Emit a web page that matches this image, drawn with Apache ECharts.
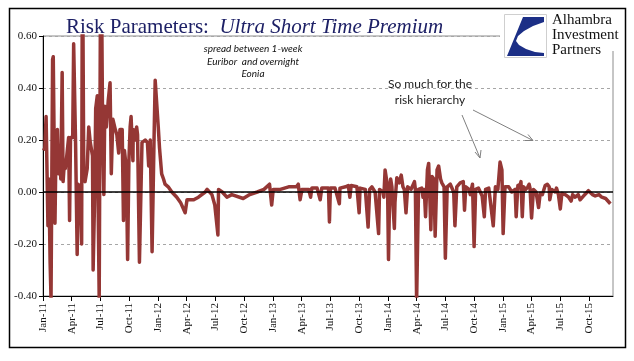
<!DOCTYPE html>
<html><head><meta charset="utf-8">
<script src="https://cdn.jsdelivr.net/npm/echarts@6/dist/echarts.min.js"></script>
<style>html,body{margin:0;padding:0;background:#fff}#c{width:634px;height:361px}</style>
</head><body><div id="c"></div>
<script>
const quarterLabels = ['Jan-11','Apr-11','Jul-11','Oct-11','Jan-12','Apr-12','Jul-12','Oct-12','Jan-13','Apr-13','Jul-13','Oct-13','Jan-14','Apr-14','Jul-14','Oct-14','Jan-15','Apr-15','Jul-15','Oct-15'];
const dates = [
'2011-01-03','2011-01-07','2011-01-11','2011-01-14','2011-01-17','2011-01-20','2011-01-24','2011-01-27','2011-02-01','2011-02-03',
'2011-02-08','2011-02-11','2011-02-15','2011-02-18','2011-02-22','2011-02-25','2011-03-01','2011-03-04','2011-03-08','2011-03-11',
'2011-03-16','2011-03-22','2011-03-25','2011-03-28','2011-04-04','2011-04-07','2011-04-13','2011-04-18','2011-04-21','2011-04-27',
'2011-05-02','2011-05-04','2011-05-06','2011-05-09','2011-05-13','2011-05-20','2011-05-25','2011-05-30','2011-06-06','2011-06-08',
'2011-06-13','2011-06-16','2011-06-21','2011-06-24','2011-06-27','2011-07-01','2011-07-05','2011-07-08','2011-07-12','2011-07-15',
'2011-07-20','2011-07-26','2011-08-01','2011-08-04','2011-08-05','2011-08-10','2011-08-18','2011-08-23','2011-08-29','2011-09-02',
'2011-09-09','2011-09-13','2011-09-16','2011-09-22','2011-09-26','2011-09-30','2011-10-04','2011-10-07','2011-10-13','2011-10-14',
'2011-10-21','2011-10-25','2011-10-28','2011-11-03','2011-11-11','2011-11-21','2011-11-28','2011-12-02','2011-12-07','2011-12-13',
'2011-12-19','2011-12-23','2011-12-29','2012-01-02','2012-01-06','2012-01-13','2012-01-19','2012-01-24','2012-02-03','2012-02-14',
'2012-02-29','2012-03-12','2012-03-27','2012-04-02','2012-04-23','2012-05-08','2012-05-30','2012-06-05','2012-06-20','2012-06-29',
'2012-07-09','2012-07-11','2012-07-23','2012-08-07','2012-08-23','2012-09-28','2012-10-19','2012-11-12','2012-12-03','2012-12-21',
'2012-12-28','2013-01-02','2013-01-25','2013-02-19','2013-03-15','2013-03-21','2013-03-27','2013-04-02','2013-04-23','2013-04-29',
'2013-05-03','2013-05-20','2013-05-30','2013-06-04','2013-06-25','2013-06-28','2013-07-01','2013-07-16','2013-07-30','2013-08-01',
'2013-08-19','2013-08-28','2013-09-02','2013-09-06','2013-09-24','2013-10-01','2013-10-04','2013-10-21','2013-10-30','2013-11-04',
'2013-11-11','2013-11-21','2013-12-02','2013-12-05','2013-12-16','2013-12-19','2013-12-23','2013-12-27','2013-12-31','2014-01-03',
'2014-01-07','2014-01-10','2014-01-14','2014-01-22','2014-01-24','2014-01-30','2014-02-06','2014-02-12','2014-02-17','2014-02-21',
'2014-02-26','2014-03-03','2014-03-14','2014-03-25','2014-03-28','2014-04-01','2014-04-07','2014-04-17','2014-04-21','2014-04-25',
'2014-04-29','2014-05-05','2014-05-09','2014-05-12','2014-05-16','2014-05-20','2014-05-26','2014-05-30','2014-06-05','2014-06-10',
'2014-06-16','2014-06-20','2014-06-27','2014-07-01','2014-07-07','2014-07-17','2014-07-28','2014-08-01','2014-08-07','2014-08-18',
'2014-08-28','2014-09-01','2014-09-05','2014-09-15','2014-09-19','2014-09-26','2014-10-01','2014-10-06','2014-10-15','2014-10-27',
'2014-11-03','2014-11-07','2014-11-17','2014-11-21','2014-12-01','2014-12-08','2014-12-16','2014-12-23','2014-12-29','2015-01-02',
'2015-01-08','2015-01-20','2015-01-30','2015-02-09','2015-02-12','2015-02-17','2015-02-24','2015-02-26','2015-03-02','2015-03-06',
'2015-03-13','2015-03-20','2015-03-24','2015-03-27','2015-04-01','2015-04-07','2015-04-15','2015-04-23','2015-04-28','2015-05-05',
'2015-05-14','2015-05-21','2015-05-27','2015-05-29','2015-06-04','2015-06-15','2015-06-19','2015-06-25','2015-07-01','2015-07-06',
'2015-07-17','2015-07-28','2015-08-05','2015-08-10','2015-08-18','2015-08-28','2015-09-03','2015-09-14','2015-09-29','2015-10-12',
'2015-10-21','2015-11-02','2015-11-11','2015-11-23','2015-12-08'
];
const values = [
0.16,0.17,0.29,0.29,-0.13,0.05,-0.27,-0.41,0.51,0.52,
-0.12,0.17,0.24,0.07,0.16,0.05,0.46,0.04,0.11,0.09,
0.14,0.21,-0.11,0.21,0.21,0.57,0.19,-0.24,0.03,0.02,
-0.20,0.72,0.70,0.06,0.04,0.09,0.25,0.19,0.14,-0.30,
0.00,0.32,0.37,-0.08,-0.41,0.75,0.70,0.23,-0.01,0.33,
0.25,0.35,0.42,0.42,0.07,0.28,0.24,0.22,0.15,0.24,
0.24,-0.11,0.16,0.09,-0.26,0.12,0.25,0.29,0.12,0.24,
0.20,0.25,0.22,-0.27,0.19,0.20,0.19,0.10,0.20,-0.23,
0.18,0.43,0.43,0.25,0.17,0.07,0.05,0.03,0.02,0.00,
-0.02,-0.04,-0.08,-0.03,-0.03,-0.02,0.00,0.01,-0.01,-0.05,
-0.165,0.01,0.00,-0.02,-0.01,-0.025,-0.01,0.00,0.01,0.03,
-0.05,0.01,0.01,0.02,0.02,0.03,-0.03,0.01,0.01,-0.02,
0.015,0.015,-0.03,0.015,0.015,-0.115,0.015,0.015,-0.045,0.015,
0.02,0.025,-0.02,0.025,0.02,-0.08,0.015,0.01,-0.135,0.01,
0.02,0.00,-0.16,0.01,0.00,-0.02,0.085,0.08,0.02,-0.26,
0.01,0.05,0.02,-0.14,-0.04,0.055,0.035,0.065,0.02,0.01,
-0.08,0.02,0.01,0.04,0.01,-0.42,0.01,0.015,-0.02,0.01,
-0.095,0.085,0.11,0.01,-0.145,0.06,0.05,-0.17,0.085,0.10,
0.05,0.035,0.02,-0.255,0.02,0.03,0.00,-0.13,0.02,0.035,
0.04,-0.07,0.02,0.01,-0.01,0.03,-0.21,0.01,0.015,-0.015,
-0.095,0.01,0.015,0.02,-0.13,0.02,0.01,0.115,0.085,-0.16,
0.02,0.02,0.00,0.01,-0.095,0.025,0.03,0.04,-0.095,0.02,
0.01,0.02,0.03,0.015,-0.10,0.01,0.00,-0.06,-0.005,-0.01,
0.025,0.03,0.02,-0.03,0.01,0.00,0.015,-0.01,-0.065,-0.005,
-0.01,-0.02,-0.035,-0.01,-0.02,-0.01,-0.03,-0.015,0.005,-0.01,
-0.015,-0.01,-0.02,-0.025,-0.045
];
function monthIndex(s){
  const p = s.split('-').map(Number);
  const dim = new Date(Date.UTC(p[0], p[1], 0)).getUTCDate();
  return (p[0]-2011)*12 + (p[1]-1) + (p[2]-1)/dim;
}
const seriesData = dates.map((d,i)=>[monthIndex(d), values[i]]);
const tickVals = quarterLabels.map((_,i)=>i*3);
const serif = "'Liberation Serif', 'DejaVu Serif', serif";
const chart = echarts.init(document.getElementById('c'), null, {renderer:'canvas'});
chart.setOption({
  animation:false,
  backgroundColor:'#fff',
  title:{
    left:61, top:12,
    text:'{a|Risk Parameters:  }{b|Ultra Short Time Premium}',
    textStyle:{fontWeight:'normal', rich:{
      a:{fontFamily:serif, fontSize:21, fontWeight:'normal', color:'#1d2066'},
      b:{fontFamily:serif, fontSize:21, fontWeight:'normal', fontStyle:'italic', color:'#1d2066'}
    }}
  },
  grid:{left:43, right:21, top:36, bottom:65, show:true, borderColor:'#8c8c8c', borderWidth:1},
  xAxis:{
    type:'value', min:0, max:59.5,
    axisLine:{show:true, onZero:false, lineStyle:{color:'#000', width:1}},
    axisTick:{show:true, length:5, customValues:tickVals, lineStyle:{color:'#000'}},
    axisLabel:{customValues:tickVals, rotate:90, margin:7, fontFamily:serif, fontSize:11, color:'#111',
      formatter:v=>quarterLabels[Math.round(v/3)]},
    splitLine:{show:false}
  },
  yAxis:{
    type:'value', min:-0.4, max:0.6, interval:0.2,
    axisLine:{show:true, lineStyle:{color:'#000', width:1}},
    axisTick:{show:true, length:4, lineStyle:{color:'#000'}},
    axisLabel:{fontFamily:serif, fontSize:11, color:'#111', margin:6, formatter:v=>v.toFixed(2)},
    splitLine:{show:true, lineStyle:{color:'#a6a6a6', type:[3,3], width:1}}
  },
  series:[{
    type:'line', data:seriesData, showSymbol:false, clip:true,
    lineStyle:{color:'#953735', width:3.5, join:'round'},
    markLine:{silent:true, symbol:'none', animation:false,
      label:{show:false},
      lineStyle:{color:'#000', width:1.5, type:'solid'},
      data:[{yAxis:0}]}
  }],
  graphic:[
    {type:'rect', shape:{x:500, y:9, width:125, height:42}, style:{fill:'#fff'}, z:50},
    {type:'rect', shape:{x:504.5, y:14.5, width:42, height:43}, style:{fill:'#fff', stroke:'#cfcfcf', lineWidth:1}, z:51},
    {type:'polygon', shape:{points:[[523,17],[544,17],[544,22],[533,26],[524,31],[518,36],[516,41],[519,45],[526,49],[535,52],[544,53],[544,56],[507,56]]}, style:{fill:'#1c2f86'}, z:52},
    {type:'text', left:552, top:13, z:52, style:{text:'Alhambra', font:"15px 'Liberation Serif'", fill:'#111'}},
    {type:'text', left:552, top:28, z:52, style:{text:'Investment', font:"15px 'Liberation Serif'", fill:'#111'}},
    {type:'text', left:552, top:43, z:52, style:{text:'Partners', font:"15px 'Liberation Serif'", fill:'#111'}},
    {type:'text', x:253, y:43, z:52, style:{text:'spread between 1-week\nEuribor  and overnight\nEonia', font:"italic 10px Lato", fill:'#111', align:'center', lineHeight:12.5}},
    {type:'text', x:430, y:76, z:52, style:{text:'So much for the\nrisk hierarchy', font:"12px Lato", fill:'#222', align:'center', lineHeight:16}},
    {type:'line', shape:{x1:462, y1:115, x2:480, y2:158}, style:{stroke:'#808080', lineWidth:1}, z:52},
    {type:'polyline', shape:{points:[[475,152],[480,158],[481,150]]}, style:{stroke:'#808080', lineWidth:1}, z:52},
    {type:'line', shape:{x1:473, y1:110, x2:533, y2:140.5}, style:{stroke:'#808080', lineWidth:1}, z:52},
    {type:'polyline', shape:{points:[[525,140.5],[533,140.5],[528,134.5]]}, style:{stroke:'#808080', lineWidth:1}, z:52},
    {type:'rect', shape:{x:9.5, y:8.5, width:616, height:339}, style:{fill:'transparent', stroke:'#000', lineWidth:1.5}, z:60}
  ]
});
</script></body></html>
